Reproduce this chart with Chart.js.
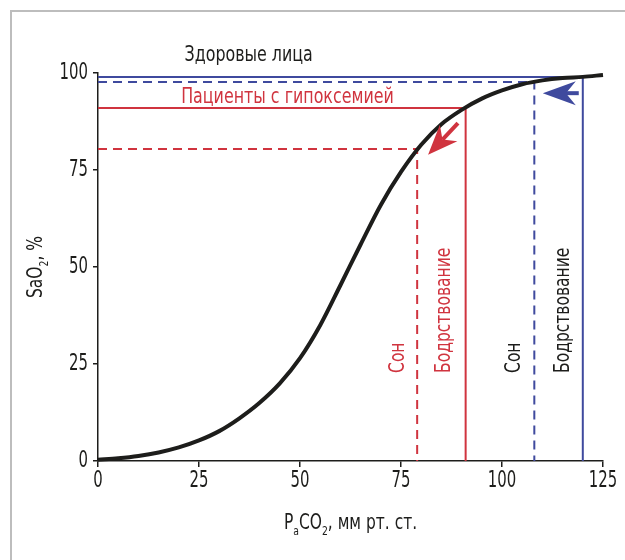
<!DOCTYPE html>
<html>
<head>
<meta charset="utf-8">
<script src="https://cdn.jsdelivr.net/npm/chart.js@4"></script>
<style>
  body { margin: 0; background: #fff; }
  #wrap { position: relative; width: 625px; height: 560px; overflow: hidden; }
  #frame { position: absolute; left: 10px; top: 10px; width: 700px; height: 600px;
           border-left: 2px solid #bdbdbd; border-top: 2px solid #bdbdbd; }
  canvas { position: absolute; left: 0; top: 0; }
</style>
</head>
<body>
<div id="wrap">
  <div id="frame"></div>
  <canvas id="curveChart" width="625" height="560"></canvas>
</div>
<script>
// PaO2 (mm Hg) vs SaO2 (%)
var pao2 = [0, 5, 10, 15, 20, 25, 30, 35, 40, 45, 50, 55, 60, 65, 70, 75, 80, 85, 90, 95, 100, 105, 110, 115, 120, 125];
var sao2 = [0.3, 0.7, 1.3, 2.2, 3.5, 5.3, 7.7, 11, 15, 20, 26.5, 35, 45.3, 55.8, 66, 74.5, 81.5, 86.8, 90.5, 93.4, 95.5, 97.1, 98.1, 98.7, 99.0, 99.5];

// awake / sleep points: healthy (blue), hypoxaemic (red)
var healthyAwake = [120, 99.0];
var healthySleep = [108, 97.7];
var patientAwake = [91, 91];
var patientSleep = [79, 80.4];

var xTicks = [0, 25, 50, 75, 100, 125];
var yTicks = [0, 25, 50, 75, 100];

var RED = "#d0343f";
var BLUE = "#3f4a9e";
var INK = "#1d1d1b";
var FONT = '"DejaVu Sans Condensed", "Liberation Sans Narrow", sans-serif';
var SIZE = 21;
var NARROW = 0.84;   // squeeze to look like the condensed print font

function corner(p) {
    return [{ x: 0, y: p[1] }, { x: p[0], y: p[1] }, { x: p[0], y: 0 }];
}

function refLine(p, color, dashed) {
    return {
        data: corner(p),
        borderColor: color,
        borderWidth: 2,
        borderDash: dashed ? [9, 6] : [],
        pointRadius: 0,
        tension: 0,
        order: 1
    };
}

function text(ctx, str, x, y, sx, align, rot, size) {
    ctx.save();
    ctx.translate(x, y);
    if (rot) ctx.rotate(rot);
    ctx.scale(sx, 1);
    ctx.font = (size || SIZE) + "px " + FONT;
    ctx.textAlign = align;
    ctx.textBaseline = "middle";
    ctx.fillText(str, 0, 0);
    ctx.restore();
}

function richText(ctx, parts, x, y, sx, rot) {
    // parts: [text, isSub]; centred on x, baseline at y
    ctx.save();
    ctx.translate(x, y);
    if (rot) ctx.rotate(rot);
    ctx.scale(sx, 1);
    var f = p => (p[1] ? SIZE * 0.6 : SIZE) + "px " + FONT;
    var total = 0;
    parts.forEach(p => { ctx.font = f(p); total += ctx.measureText(p[0]).width; });
    var cx = -total / 2;
    ctx.textAlign = "left";
    ctx.textBaseline = "alphabetic";
    parts.forEach(p => {
        ctx.font = f(p);
        ctx.fillText(p[0], cx, p[1] ? SIZE * 0.3 : 0);
        cx += ctx.measureText(p[0]).width;
    });
    ctx.restore();
}

function arrow(ctx, x0, y0, x1, y1, color, len, half) {
    var dx = x1 - x0, dy = y1 - y0;
    var d = Math.sqrt(dx * dx + dy * dy);
    var ux = dx / d, uy = dy / d;
    var nx = -uy, ny = ux;
    var notch = len * 0.3;
    ctx.save();
    ctx.strokeStyle = color;
    ctx.fillStyle = color;
    ctx.lineWidth = 4;
    ctx.beginPath();
    ctx.moveTo(x0, y0);
    ctx.lineTo(x1 - ux * (len - notch), y1 - uy * (len - notch));
    ctx.stroke();
    ctx.beginPath();
    ctx.moveTo(x1, y1);
    ctx.lineTo(x1 - ux * len + nx * half, y1 - uy * len + ny * half);
    ctx.lineTo(x1 - ux * (len - notch), y1 - uy * (len - notch));
    ctx.lineTo(x1 - ux * len - nx * half, y1 - uy * len - ny * half);
    ctx.closePath();
    ctx.fill();
    ctx.restore();
}

var labelsPlugin = {
    id: "labels",
    afterDraw(chart) {
        var ctx = chart.ctx;
        var xs = chart.scales.x, ys = chart.scales.y;
        var px = v => xs.getPixelForValue(v);
        var py = v => ys.getPixelForValue(v);
        var area = chart.chartArea;

        arrow(ctx, px(89.1), py(87.1), px(81.7), py(78.9), RED, 30, 12);
        arrow(ctx, px(119), py(94.8), px(110.1), py(94.8), BLUE, 33, 12);

        ctx.save();
        ctx.fillStyle = INK;
        xs.ticks.forEach(t => text(ctx, String(t.value), px(t.value), area.bottom + 20, 0.72, "center", 0, 23));
        ys.ticks.forEach(t => text(ctx, String(t.value), area.left - 10, py(t.value), 0.72, "right", 0, 23));

        text(ctx, "Здоровые лица", px(37.3), py(104.4), NARROW, "center");
        ctx.fillStyle = RED;
        text(ctx, "Пациенты с гипоксемией", px(46.9), py(93.6), NARROW, "center");

        var vert = [
            ["Сон", 74.4, RED],
            ["Бодрствование", 85.9, RED],
            ["Сон", 103.2, INK],
            ["Бодрствование", 115.2, INK]
        ];
        vert.forEach(v => {
            ctx.fillStyle = v[2];
            text(ctx, v[0], px(v[1]), py(22.7), 0.82, "left", -Math.PI / 2);
        });

        ctx.fillStyle = INK;
        richText(ctx, [["P", false], ["a", true], ["CO", false], ["2", true], [", мм рт. ст.", false]],
            (area.left + area.right) / 2, 529, 0.82);
        richText(ctx, [["SaO", false], ["2", true], [", %", false]], 42, py(50), 0.82, -Math.PI / 2);
        ctx.restore();
    }
};

new Chart(document.getElementById("curveChart"), {
    type: "line",
    data: {
        datasets: [
            {
                data: pao2.map((x, i) => ({ x: x, y: sao2[i] })),
                borderColor: INK,
                borderWidth: 4,
                pointRadius: 0,
                cubicInterpolationMode: "monotone",
                order: 0
            },
            refLine(healthyAwake, BLUE, false),
            refLine(healthySleep, BLUE, true),
            refLine(patientAwake, RED, false),
            refLine(patientSleep, RED, true)
        ]
    },
    options: {
        responsive: false,
        animation: false,
        clip: false,
        layout: { padding: { left: 0, right: 22, top: 73, bottom: 0 } },
        plugins: { legend: { display: false }, tooltip: { enabled: false } },
        scales: {
            x: {
                type: "linear",
                min: 0,
                max: 125,
                afterFit: s => { s.height = 99; },
                afterBuildTicks: s => { s.ticks = xTicks.map(v => ({ value: v })); },
                grid: { drawOnChartArea: false, drawTicks: true, tickLength: 6, color: INK, lineWidth: 1.5 },
                border: { display: true, color: INK, width: 1.5 },
                ticks: { display: false }
            },
            y: {
                min: 0,
                max: 100,
                afterFit: s => { s.width = 98; },
                afterBuildTicks: s => { s.ticks = yTicks.map(v => ({ value: v })); },
                grid: { drawOnChartArea: false, drawTicks: true, tickLength: 5, color: INK, lineWidth: 1.5 },
                border: { display: true, color: INK, width: 1.5 },
                ticks: { display: false }
            }
        }
    },
    plugins: [labelsPlugin]
});
</script>
</body>
</html>
